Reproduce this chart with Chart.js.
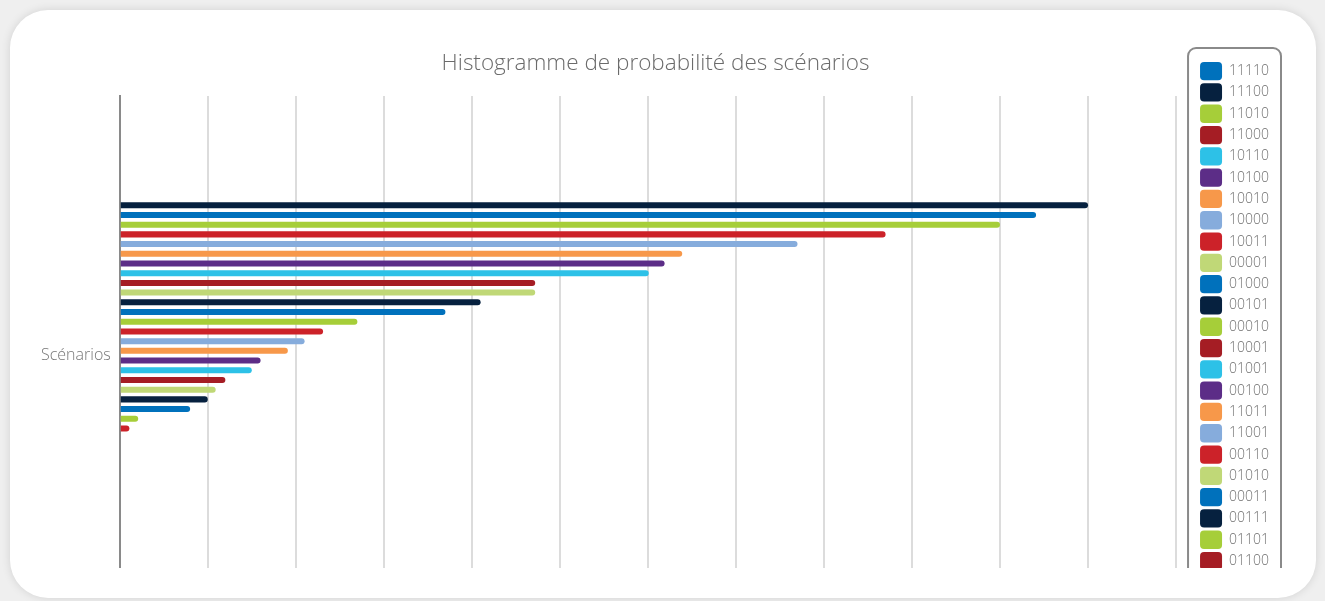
<!DOCTYPE html>
<html lang="fr">
<head>
<meta charset="utf-8">
<title>Histogramme de probabilité des scénarios</title>
<script src="https://cdn.jsdelivr.net/npm/chart.js@4.4.1/dist/chart.umd.min.js"></script>
<style>
  html, body { margin: 0; padding: 0; background: #efefef; }
  .card {
    position: absolute; left: 10px; top: 10px; width: 1306px; height: 588px;
    background: #fff; border-radius: 38px; box-shadow: 0 0 10px rgba(0, 0, 0, 0.12);
  }
  /* la zone du graphique est coupée en bas, comme une boîte qui défile */
  .clip { position: absolute; left: 10px; top: 10px; width: 1270px; height: 548px; overflow: hidden; }
  canvas { display: block; }
</style>
</head>
<body>
<div class="card">
  <div class="clip"><canvas id="chart" width="1270" height="614"></canvas></div>
</div>
<script>
// Scénarios, dans l'ordre de la légende
const scenarios = [
  "11110", "11100", "11010", "11000", "10110", "10100", "10010", "10000",
  "10011", "00001", "01000", "00101", "00010", "10001", "01001", "00100",
  "11011", "11001", "00110", "01010", "00011", "00111", "01101", "01100",
  "00000", "01011", "01110", "01111", "10101", "10111", "11101", "11111"
];

// Probabilité de chaque scénario, en %
const probabilites = [
  10.41, 11.00, 10.00, 4.72, 6.01, 6.19, 6.39, 7.70,
  8.70, 4.72, 3.70, 4.10, 2.70, 1.20, 1.50, 1.60,
  1.91, 2.10, 2.31, 1.09, 0.80, 1.00, 0.21, 0,
  0, 0, 0, 0, 0.11, 0, 0, 0
];

const categories = ["Scénarios"];
const couleurs = [
  "#0071bc", "#06213f", "#a6ce39", "#a51d24", "#2dc1e7",
  "#5c2d87", "#f7984a", "#86acdc", "#cc2229", "#c0d877"
];

// Les barres sont rangées de la plus probable (en haut) à la moins probable
const rang = scenarios.map((_, i) => i).sort((a, b) => probabilites[b] - probabilites[a]);

const datasets = scenarios.map((s, i) => ({
  label: s,
  data: [probabilites[i]],
  backgroundColor: couleurs[i % couleurs.length],
  order: rang.indexOf(i),
  xAxisID: "x",
  yAxisID: "y"
}));

// Cadre gris arrondi autour de la légende
const cadreLegende = {
  id: "cadreLegende",
  afterDraw(chart) {
    const boxes = chart.legend.legendHitBoxes;
    if (!boxes || !boxes.length) return;
    const left = Math.min(...boxes.map(b => b.left)) - 12;
    const top = Math.min(...boxes.map(b => b.top)) - 14;
    const right = Math.max(...boxes.map(b => b.left + b.width)) + 12;
    const bottom = Math.max(...boxes.map(b => b.top + b.height)) + 14;
    const ctx = chart.ctx;
    ctx.save();
    ctx.strokeStyle = "#8a8a8a";
    ctx.lineWidth = 2;
    ctx.beginPath();
    ctx.roundRect(left, top, right - left, bottom - top, 8);
    ctx.stroke();
    ctx.restore();
  }
};

Chart.defaults.font.family = "'Open Sans', sans-serif";
Chart.defaults.font.weight = "300";

const ctx = document.getElementById("chart").getContext("2d");

new Chart(ctx, {
  type: "bar",
  data: {
    labels: categories,
    datasets: datasets
  },
  options: {
    indexAxis: "y",
    responsive: false,
    animation: false,
    barPercentage: 0.62,
    categoryPercentage: 0.598,
    borderRadius: 3,
    layout: { padding: { top: 39, left: 12, right: 11, bottom: 0 } },
    plugins: {
      title: {
        display: true,
        text: "Histogramme de probabilité des scénarios",
        color: "#6b6b6b",
        font: { size: 22.5, weight: "300", lineHeight: 1.2 },
        padding: { top: -8.5, bottom: 18.5 }
      },
      legend: {
        position: "right",
        align: "start",
        labels: {
          boxWidth: 22,
          boxHeight: 18.3,
          useBorderRadius: true,
          borderRadius: 4,
          padding: 3,
          color: "#6f6f6f",
          font: { size: 14, weight: "300" },
          filter: item => item.datasetIndex < 25,
          sort: (a, b) => a.datasetIndex - b.datasetIndex
        }
      },
      tooltip: { enabled: false }
    },
    scales: {
      x: {
        type: "linear",
        min: 0,
        max: 12,
        ticks: { display: false, stepSize: 1 },
        grid: { color: "#dcdcdc", lineWidth: 2, drawTicks: false },
        border: { display: false }
      },
      y: {
        type: "category",
        grid: { display: false, drawTicks: false },
        border: { color: "#8a8a8a", width: 2 },
        ticks: { color: "#777", padding: 9, font: { size: 16, weight: "300" } }
      },
      // petit espace entre la zone de tracé et la légende
      espace: {
        type: "category",
        position: "right",
        grid: { display: false, drawTicks: false },
        border: { display: false },
        ticks: { display: false },
        afterFit(scale) { scale.width = 21; }
      }
    }
  },
  plugins: [cadreLegende]
});
</script>
</body>
</html>
